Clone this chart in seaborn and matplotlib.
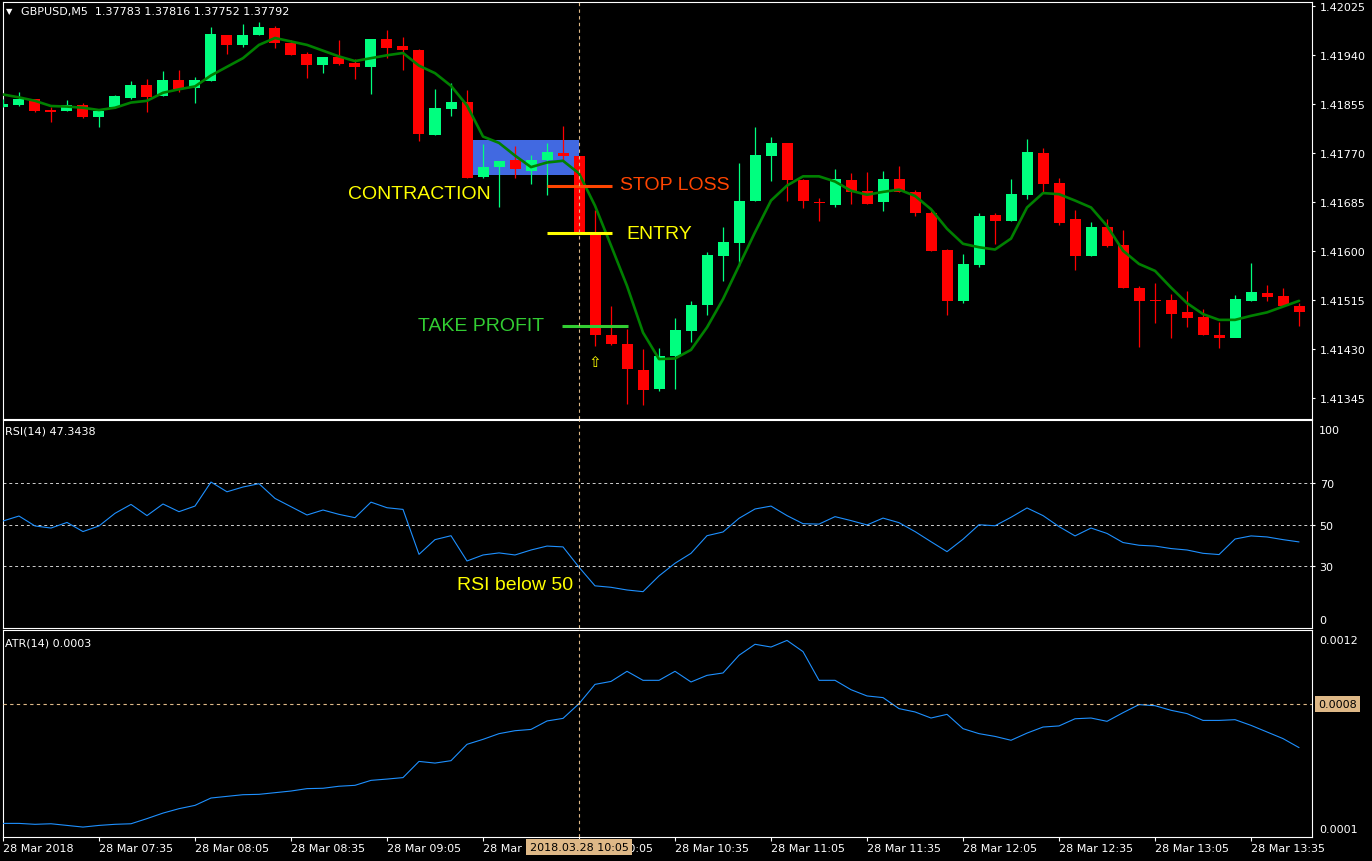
import numpy as np
import matplotlib
matplotlib.use('Agg')
import matplotlib.pyplot as plt
from matplotlib.patches import Rectangle
import seaborn as sns

# ================= data: GBPUSD M5, 28 Mar 2018 07:05 .. 13:50 =================
opens = [1.41850, 1.41852, 1.41863, 1.41844, 1.41843, 1.41853, 1.41832, 1.41849, 1.41865, 1.41887,
         1.41869, 1.41896, 1.41882, 1.41895, 1.41974, 1.41956, 1.41975, 1.41986, 1.41961, 1.41941,
         1.41923, 1.41936, 1.41926, 1.41919, 1.41967, 1.41955, 1.41948, 1.41801, 1.41846, 1.41858,
         1.41728, 1.41746, 1.41757, 1.41739, 1.41757, 1.41769, 1.41764, 1.41632, 1.41454, 1.41438,
         1.41393, 1.41360, 1.41417, 1.41461, 1.41505, 1.41591, 1.41613, 1.41687, 1.41765, 1.41787,
         1.41723, 1.41685, 1.41680, 1.41723, 1.41703, 1.41685, 1.41724, 1.41702, 1.41666, 1.41602,
         1.41513, 1.41576, 1.41662, 1.41652, 1.41697, 1.41769, 1.41717, 1.41655, 1.41590, 1.41641,
         1.41610, 1.41535, 1.41515, 1.41514, 1.41494, 1.41485, 1.41454, 1.41449, 1.41513, 1.41527,
         1.41521, 1.41504]
highs = [1.41863, 1.41875, 1.41863, 1.41849, 1.41861, 1.41856, 1.41844, 1.41870, 1.41894, 1.41898,
         1.41912, 1.41914, 1.41902, 1.41988, 1.41974, 1.41993, 1.41997, 1.41990, 1.41966, 1.41945,
         1.41936, 1.41966, 1.41932, 1.41968, 1.41983, 1.41971, 1.41950, 1.41880, 1.41891, 1.41879,
         1.41785, 1.41756, 1.41782, 1.41766, 1.41787, 1.41816, 1.41764, 1.41671, 1.41504, 1.41464,
         1.41429, 1.41432, 1.41484, 1.41512, 1.41598, 1.41641, 1.41752, 1.41814, 1.41797, 1.41787,
         1.41724, 1.41691, 1.41742, 1.41735, 1.41736, 1.41738, 1.41747, 1.41706, 1.41669, 1.41603,
         1.41594, 1.41666, 1.41665, 1.41724, 1.41794, 1.41778, 1.41726, 1.41670, 1.41650, 1.41655,
         1.41636, 1.41538, 1.41544, 1.41525, 1.41530, 1.41499, 1.41477, 1.41524, 1.41579, 1.41540,
         1.41535, 1.41509]
lows = [1.41849, 1.41851, 1.41841, 1.41824, 1.41843, 1.41831, 1.41815, 1.41848, 1.41863, 1.41841,
        1.41869, 1.41876, 1.41857, 1.41895, 1.41941, 1.41954, 1.41975, 1.41952, 1.41940, 1.41900,
        1.41909, 1.41923, 1.41897, 1.41872, 1.41935, 1.41914, 1.41791, 1.41801, 1.41834, 1.41726,
        1.41726, 1.41675, 1.41726, 1.41716, 1.41697, 1.41758, 1.41632, 1.41435, 1.41437, 1.41334,
        1.41332, 1.41357, 1.41360, 1.41441, 1.41489, 1.41548, 1.41574, 1.41687, 1.41721, 1.41687,
        1.41674, 1.41652, 1.41675, 1.41681, 1.41681, 1.41669, 1.41702, 1.41660, 1.41600, 1.41489,
        1.41510, 1.41572, 1.41612, 1.41651, 1.41690, 1.41701, 1.41645, 1.41567, 1.41590, 1.41607,
        1.41536, 1.41433, 1.41475, 1.41449, 1.41468, 1.41453, 1.41432, 1.41455, 1.41513, 1.41513,
        1.41504, 1.41470]
closes = [1.41854, 1.41864, 1.41843, 1.41841, 1.41852, 1.41832, 1.41843, 1.41868, 1.41887, 1.41867,
          1.41896, 1.41880, 1.41896, 1.41976, 1.41956, 1.41974, 1.41988, 1.41961, 1.41940, 1.41923,
          1.41936, 1.41924, 1.41919, 1.41967, 1.41952, 1.41948, 1.41802, 1.41848, 1.41858, 1.41726,
          1.41745, 1.41756, 1.41741, 1.41757, 1.41771, 1.41764, 1.41632, 1.41453, 1.41438, 1.41394,
          1.41359, 1.41417, 1.41462, 1.41506, 1.41593, 1.41615, 1.41686, 1.41766, 1.41787, 1.41723,
          1.41686, 1.41683, 1.41724, 1.41702, 1.41681, 1.41724, 1.41702, 1.41666, 1.41600, 1.41513,
          1.41577, 1.41660, 1.41652, 1.41698, 1.41771, 1.41716, 1.41648, 1.41590, 1.41641, 1.41608,
          1.41536, 1.41513, 1.41513, 1.41491, 1.41484, 1.41453, 1.41449, 1.41516, 1.41528, 1.41520,
          1.41504, 1.41494]
ma_line = [1.41871, 1.41866, 1.41860, 1.41851, 1.41850, 1.41848, 1.41844, 1.41848, 1.41857, 1.41860,
           1.41874, 1.41880, 1.41885, 1.41904, 1.41919, 1.41934, 1.41957, 1.41969, 1.41963, 1.41957,
           1.41947, 1.41937, 1.41929, 1.41934, 1.41939, 1.41943, 1.41921, 1.41908, 1.41886, 1.41852,
           1.41798, 1.41787, 1.41765, 1.41745, 1.41753, 1.41756, 1.41734, 1.41678, 1.41609, 1.41539,
           1.41458, 1.41412, 1.41413, 1.41428, 1.41467, 1.41516, 1.41574, 1.41632, 1.41687, 1.41713,
           1.41729, 1.41729, 1.41720, 1.41704, 1.41697, 1.41702, 1.41706, 1.41695, 1.41672, 1.41638,
           1.41612, 1.41606, 1.41602, 1.41621, 1.41675, 1.41700, 1.41698, 1.41687, 1.41675, 1.41643,
           1.41600, 1.41577, 1.41565, 1.41536, 1.41509, 1.41490, 1.41480, 1.41480, 1.41487, 1.41493,
           1.41503, 1.41513]
rsi = [51.7, 54.1, 49.3, 48.3, 51.0, 46.6, 49.3, 55.4, 59.7, 54.3,
       59.9, 56.2, 58.9, 70.5, 65.8, 68.1, 69.7, 62.6, 58.6, 54.6,
       57.0, 54.9, 53.3, 60.8, 58.1, 57.3, 35.6, 42.7, 44.6, 32.4,
       35.3, 36.3, 35.3, 37.7, 39.6, 39.2, 29.4, 20.4, 19.7, 18.4,
       17.6, 25.2, 31.3, 36.1, 44.6, 46.4, 53.0, 57.5, 58.9, 54.3,
       50.4, 50.2, 53.8, 51.9, 49.8, 53.1, 50.9, 46.6, 41.7, 36.9,
       42.9, 49.9, 49.4, 53.5, 58.0, 54.3, 49.0, 44.5, 48.3, 45.7,
       41.3, 40.0, 39.6, 38.4, 37.7, 36.1, 35.5, 43.0, 44.5, 44.0,
       42.7, 41.6]
# ATR(14) in units of 0.00001
atr_points = [17.4, 17.4, 16.9, 17.2, 16.3, 15.4, 16.3, 16.9, 17.2, 20.0,
              23.0, 25.4, 27.2, 31.2, 32.1, 33.0, 33.2, 34.1, 35.0, 36.3,
              36.5, 37.6, 38.1, 40.8, 41.5, 42.3, 51.1, 50.2, 51.5, 60.4,
              63.1, 66.2, 67.8, 68.5, 73.1, 74.5, 82.5, 93.0, 94.6, 100.1,
              95.2, 95.2, 100.1, 94.3, 97.9, 99.2, 108.8, 114.8, 113.3, 116.9,
              110.8, 95.2, 95.2, 90.1, 86.7, 85.8, 79.8, 78.0, 74.7, 76.7,
              68.9, 66.2, 64.7, 62.6, 66.5, 69.8, 70.4, 74.3, 74.7, 72.9,
              77.6, 82.0, 81.4, 78.9, 77.1, 73.4, 73.4, 73.8, 70.7, 67.1,
              63.5, 58.6]
time_labels = ['28 Mar 2018', '28 Mar 07:35', '28 Mar 08:05', '28 Mar 08:35', '28 Mar 09:05',
               '28 Mar 09:35', '28 Mar 10:05', '28 Mar 10:35', '28 Mar 11:05', '28 Mar 11:35',
               '28 Mar 12:05', '28 Mar 12:35', '28 Mar 13:05', '28 Mar 13:35']
price_ticks = [1.41345, 1.41430, 1.41515, 1.41600, 1.41685, 1.41770, 1.41855, 1.41940, 1.42025]
rsi_levels = [30, 50, 70]

# trade setup levels
stop_loss = 1.41712
entry_price = 1.41630
take_profit = 1.41470
box_low, box_high = 1.41732, 1.41792
cross_bar = 36
cross_atr = 0.000823

# ================= styling =================
sns.set_style('dark', {'axes.facecolor': 'black', 'figure.facecolor': 'black'})
plt.rcParams['font.family'] = ['DejaVu Sans']

BULL, BEAR = '#00FF7F', '#FF0000'
CROSS = '#DEB887'
W, H = 1372, 862

fig = plt.figure(figsize=(W / 100, H / 100), dpi=100, facecolor='black')


def panel(top, bottom):
    return fig.add_axes([2.5 / W, 1 - bottom / H, (1312 - 2.5) / W, (bottom - top) / H])


ax_p = panel(2.5, 419.5)
ax_r = panel(421.3, 628.7)
ax_a = panel(631.3, 838)

bars = np.arange(len(opens))
o, h, l, c = (np.array(v) for v in (opens, highs, lows, closes))

for ax in (ax_p, ax_r, ax_a):
    ax.set_facecolor('black')
    for s in ax.spines.values():
        s.set_color('white')
        s.set_linewidth(0.8)
    ax.grid(False)
    ax.set_xlim(-0.03, 81.81)
    ax.yaxis.tick_right()
    ax.tick_params(axis='y', colors='white', labelsize=8, length=2.5, width=0.8, pad=3,
                   direction='out', right=True, left=False)
    ax.tick_params(axis='x', bottom=False, labelbottom=False)
    ax.axvline(cross_bar, color=CROSS, lw=0.8, ls=(0, (3, 3)), zorder=7)

# ---- price panel ----
ax_p.add_patch(Rectangle((29.375, box_low), 36.0 - 29.375, box_high - box_low,
                         facecolor='#4169E1', edgecolor='none', zorder=1))
colors = np.where(c >= o, BULL, BEAR)
ax_p.vlines(bars, l, h, colors=colors, lw=0.9, zorder=3)
ax_p.bar(bars, np.maximum(np.abs(c - o), 0.000012), bottom=np.minimum(o, c), width=0.6875,
         color=colors, linewidth=0, zorder=4)
sns.lineplot(x=bars, y=ma_line, ax=ax_p, color='#008000', linewidth=1.9, zorder=5, legend=False)

ax_p.hlines(stop_loss, 34.0, 38.06, colors='#FF4500', lw=2.2, zorder=6)
ax_p.hlines(entry_price, 34.0, 38.06, colors='#FFFF00', lw=2.2, zorder=6)
ax_p.hlines(take_profit, 34.94, 39.06, colors='#32CD32', lw=2.2, zorder=6)
big = dict(fontsize=14, family=['Liberation Sans', 'DejaVu Sans'], va='center', ha='left', zorder=8)
ax_p.text(21.56, 1.41700, 'CONTRACTION', color='#FFFF00', **big)
ax_p.text(38.56, 1.41714, 'STOP LOSS', color='#FF4500', **big)
ax_p.text(38.94, 1.41629, 'ENTRY', color='#FFFF00', **big)
ax_p.text(25.94, 1.41471, 'TAKE PROFIT', color='#32CD32', **big)
ax_p.text(37, 1.41407, '\u21e7', color='#FFFF00', fontsize=11, ha='center', va='center', zorder=8)

ax_p.set_ylim(1.413089, 1.420323)
ax_p.set_yticks(price_ticks)
ax_p.set_yticklabels([f'{v:.5f}' for v in price_ticks])
ax_p.set_xlabel('')
ax_p.set_ylabel('')

# ---- RSI panel ----
for lv in rsi_levels:
    ax_r.axhline(lv, color='#d0d0d0', lw=0.7, ls=(0, (3, 3)), zorder=2)
sns.lineplot(x=bars, y=rsi, ax=ax_r, color='#1E90FF', linewidth=0.8, zorder=3, legend=False)
ax_r.set_ylim(0.2, 100.3)
ax_r.set_yticks(rsi_levels)
ax_r.set_yticklabels([str(v) for v in rsi_levels])
ax_r.text(28.375, 21.0, 'RSI below 50', color='#FFFF00', **big)
ax_r.set_xlabel('')
ax_r.set_ylabel('')

# ---- ATR panel ----
sns.lineplot(x=bars, y=np.array(atr_points) * 1e-5, ax=ax_a, color='#1E90FF', linewidth=0.8,
             zorder=3, legend=False)
ax_a.axhline(cross_atr, color=CROSS, lw=0.8, ls=(0, (3, 3)), zorder=7)
ax_a.set_ylim(0.00010, 0.001224)
ax_a.set_yticks([])
ax_a.set_xlabel('')
ax_a.set_ylabel('')
ax_a.set_xticks(bars[::6])
ax_a.set_xticklabels(time_labels, ha='left')
ax_a.tick_params(axis='x', bottom=True, labelbottom=True, colors='white', labelsize=8,
                 length=3, width=0.8, pad=1.5, direction='out')

small = dict(color='white', fontsize=8, va='center', ha='left', xycoords='axes fraction',
             textcoords='offset pixels', annotation_clip=False)
ax_r.annotate('100', xy=(1, 1), xytext=(7, -10), **small)
ax_r.annotate('0', xy=(1, 0), xytext=(7, 8), **small)
ax_a.annotate('0.0012', xy=(1, 1), xytext=(7, -10), **small)
ax_a.annotate('0.0001', xy=(1, 0), xytext=(7, 8), **small)

box = dict(boxstyle='square,pad=0.3', facecolor=CROSS, edgecolor='none')
ax_a.annotate('0.0008', xy=(1, cross_atr), xycoords=('axes fraction', 'data'), xytext=(6, 0),
              textcoords='offset pixels', color='black', fontsize=8, va='center', ha='left',
              bbox=box, annotation_clip=False, zorder=10)
ax_a.annotate('2018.03.28 10:05', xy=(cross_bar, 0), xycoords=('data', 'axes fraction'),
              xytext=(0, -10), textcoords='offset pixels', color='black', fontsize=8,
              va='center', ha='center', bbox=box, annotation_clip=False, zorder=10)

# ---- panel captions ----
fig.text(6 / W, 1 - 12 / H, '\u25bc', color='white', fontsize=6, va='center', ha='left')
fig.text(21 / W, 1 - 12 / H, 'GBPUSD,M5  1.37783 1.37816 1.37752 1.37792', color='white',
         fontsize=8, va='center', ha='left')
fig.text(5 / W, 1 - 432 / H, 'RSI(14) 47.3438', color='white', fontsize=8, va='center', ha='left')
fig.text(5 / W, 1 - 643 / H, 'ATR(14) 0.0003', color='white', fontsize=8, va='center', ha='left')

fig.savefig('out.png', dpi=100, facecolor='black')
